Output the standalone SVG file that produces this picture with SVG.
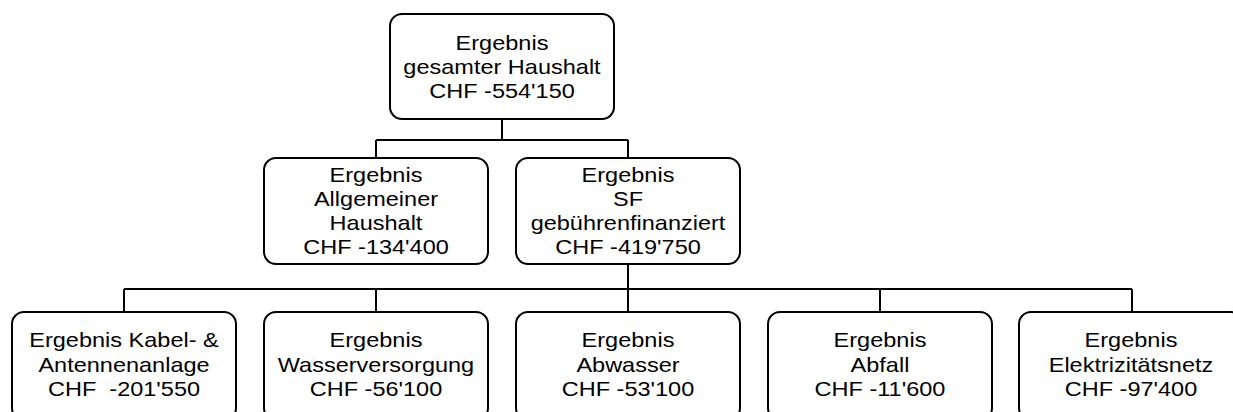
<svg xmlns="http://www.w3.org/2000/svg" width="1233" height="412" viewBox="0 0 1233 412">
<style>
.box{fill:#fff;stroke:#000;stroke-width:2}
.lbl{font-family:"Liberation Sans",Arial,sans-serif;font-size:21px;fill:#000;text-anchor:middle}
.con{fill:none;stroke:#000;stroke-width:2}
</style>
<rect width="1233" height="412" fill="#fff"/>
<g id="connectors">
<path class="con" d="M502,119 V140 M376,140 H628 M376,140 V158 M628,140 V158"/>
<path class="con" d="M628,264 V289 M124,289 H1132 M124,289 V312 M376,289 V312 M628,289 V312 M880,289 V312 M1132,289 V312"/>
</g>
<g id="n_total">
<rect class="box" x="390" y="14" width="224" height="105" rx="12"/>
<text class="lbl" transform="translate(502 0) scale(1.12 1)"><tspan x="0" y="50">Ergebnis</tspan><tspan x="0" y="74">gesamter Haushalt</tspan><tspan x="0" y="98">CHF -554'150</tspan></text>
</g>
<g id="n_allg">
<rect class="box" x="264" y="158" width="224" height="106" rx="12"/>
<text class="lbl" transform="translate(376 0) scale(1.12 1)"><tspan x="0" y="182">Ergebnis</tspan><tspan x="0" y="206">Allgemeiner</tspan><tspan x="0" y="230">Haushalt</tspan><tspan x="0" y="254">CHF -134'400</tspan></text>
</g>
<g id="n_sf">
<rect class="box" x="516" y="158" width="224" height="106" rx="12"/>
<text class="lbl" transform="translate(628 0) scale(1.12 1)"><tspan x="0" y="182">Ergebnis</tspan><tspan x="0" y="206">SF</tspan><tspan x="0" y="230">gebührenfinanziert</tspan><tspan x="0" y="254">CHF -419'750</tspan></text>
</g>
<g id="n_kabel">
<rect class="box" x="12" y="312" width="224" height="108" rx="12"/>
<text class="lbl" transform="translate(124 0) scale(1.12 1)"><tspan x="0" y="347">Ergebnis Kabel- &amp;</tspan><tspan x="0" y="372">Antennenanlage</tspan><tspan x="0" y="396" xml:space="preserve">CHF  -201'550</tspan></text>
</g>
<g id="n_wasser">
<rect class="box" x="264" y="312" width="224" height="108" rx="12"/>
<text class="lbl" transform="translate(376 0) scale(1.12 1)"><tspan x="0" y="347">Ergebnis</tspan><tspan x="0" y="372">Wasserversorgung</tspan><tspan x="0" y="396">CHF -56'100</tspan></text>
</g>
<g id="n_abwasser">
<rect class="box" x="516" y="312" width="224" height="108" rx="12"/>
<text class="lbl" transform="translate(628 0) scale(1.12 1)"><tspan x="0" y="347">Ergebnis</tspan><tspan x="0" y="372">Abwasser</tspan><tspan x="0" y="396">CHF -53'100</tspan></text>
</g>
<g id="n_abfall">
<rect class="box" x="768" y="312" width="224" height="108" rx="12"/>
<text class="lbl" transform="translate(880 0) scale(1.12 1)"><tspan x="0" y="347">Ergebnis</tspan><tspan x="0" y="372">Abfall</tspan><tspan x="0" y="396">CHF -11'600</tspan></text>
</g>
<g id="n_elektro">
<rect class="box" x="1019" y="312" width="224" height="108" rx="12"/>
<text class="lbl" transform="translate(1131 0) scale(1.12 1)"><tspan x="0" y="347">Ergebnis</tspan><tspan x="0" y="372">Elektrizitätsnetz</tspan><tspan x="0" y="396">CHF -97'400</tspan></text>
</g>
</svg>
